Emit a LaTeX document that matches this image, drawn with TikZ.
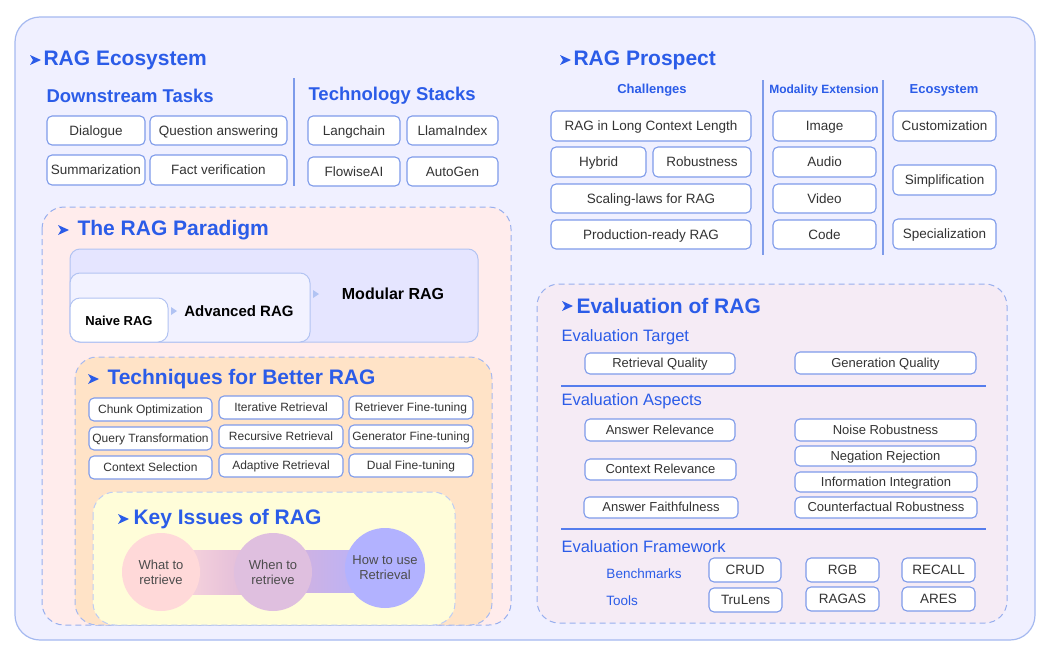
\documentclass[tikz,border=0pt]{standalone}
\usepackage{fontspec}
\setmainfont{Liberation Sans}
\begin{document}
\begin{tikzpicture}[x=1pt,y=-1pt,
  bx/.style={draw=bord,line width=1.1pt,rounded corners=5pt,fill=white,inner sep=0pt,font=\fontsize{13.5}{14}\selectfont,text=black!80,text height=9.5pt,text depth=0.5pt},
  sm/.style={font=\fontsize{12}{13}\selectfont,text height=8.5pt,text depth=0.5pt},
  md/.style={font=\fontsize{13}{14}\selectfont,text height=9pt,text depth=0.5pt},
  ttl/.style={anchor=west,text=tblue,font=\fontsize{21}{22}\selectfont\bfseries},
  sub/.style={anchor=west,text=tblue,font=\fontsize{18.5}{20}\selectfont\bfseries},
  sub2/.style={anchor=west,text=tblue,font=\fontsize{16.5}{18}\selectfont},
  hd/.style={text=tblue,font=\fontsize{13}{14}\selectfont\bfseries},
  dsh/.style={dashed,dash pattern=on 6pt off 4pt,draw=bord!80,line width=1pt,rounded corners=22pt}]
\definecolor{bord}{HTML}{7E9BEA}
\definecolor{tblue}{HTML}{2B5CE8}
\newcommand{\bxx}[7][]{\node[bx,#1,minimum width={(#5-#3)*1pt},minimum height={(#6-#4)*1pt}] (#2) at ({(#3+#5)/2},{(#4+#6)/2}) {#7};}
\newcommand{\mk}[2]{\fill[tblue] (#1,#2-5) -- (#1+11,#2) -- (#1,#2+5) -- (#1+3,#2) -- cycle;}
\useasboundingbox (0,0) rectangle (1040,645);
\fill[white] (0,0) rectangle (1040,645);
\draw[fill=blue!6,draw=bord!70,line width=1.2pt,rounded corners=25pt] (15,17) rectangle (1035,640);
% Ecosystem
\mk{30}{60}\node[ttl] (t1) at (40,60) {RAG Ecosystem};
\node[sub] (dt) at (43,96) {Downstream Tasks};
\bxx{a1}{47}{116}{145}{145}{Dialogue}
\bxx{a2}{150}{116}{287}{145}{Question answering}
\bxx{a3}{47}{155}{145}{185}{Summarization}
\bxx{a4}{150}{155}{287}{185}{Fact verification}
\draw[bord,line width=1.2pt] (294,78) -- (294,186);
\node[sub] (ts) at (305,96) {Technology Stacks};
\bxx{b1}{308}{116}{400}{145}{Langchain}
\bxx{b2}{407}{116}{498}{145}{LlamaIndex}
\bxx{b3}{308}{157}{400}{186}{FlowiseAI}
\bxx{b4}{407}{157}{498}{186}{AutoGen}
% Prospect
\mk{560}{60}\node[ttl] (t2) at (570,60) {RAG Prospect};
\node[hd] (h1) at (652,90) {Challenges};
\node[hd,font=\fontsize{12}{13}\selectfont\bfseries] (h2) at (824,90) {Modality Extension};
\node[hd] (h3) at (944,90) {Ecosystem};
\draw[bord,line width=1.2pt] (763,80) -- (763,255) (883,80) -- (883,255);
\bxx{c1}{551}{111}{751}{141}{RAG in Long Context Length}
\bxx{c2}{551}{147}{646}{177}{Hybrid}
\bxx{c3}{653}{147}{751}{177}{Robustness}
\bxx{c4}{551}{184}{751}{213}{Scaling-laws for RAG}
\bxx{c5}{551}{220}{751}{249}{Production-ready RAG}
\bxx{m1}{773}{111}{876}{141}{Image}
\bxx{m2}{773}{147}{876}{177}{Audio}
\bxx{m3}{773}{184}{876}{213}{Video}
\bxx{m4}{773}{220}{876}{249}{Code}
\bxx{e1}{893}{111}{996}{141}{Customization}
\bxx{e2}{893}{165}{996}{195}{Simplification}
\bxx{e3}{893}{219}{996}{249}{Specialization}
% Paradigm
\draw[dsh,fill=red!50!pink!12] (42,207) rectangle (511,625);
\mk{58}{230}\node[ttl] (t3) at (74,230) {The RAG Paradigm};
\draw[draw=bord!60,line width=1pt,rounded corners=10pt,fill=blue!10] (70,249) rectangle (478,342);
\draw[draw=bord!60,line width=1pt,rounded corners=10pt,fill=blue!5] (70,273) rectangle (310,342);
\draw[draw=bord!60,line width=1pt,rounded corners=10pt,fill=white] (70,298) rectangle (168,342);
\node[font=\fontsize{16}{18}\selectfont\bfseries] (mr) at (393,294) {Modular RAG};
\node[font=\fontsize{15}{17}\selectfont\bfseries] (ar) at (239,311) {Advanced RAG};
\node[font=\fontsize{13}{14}\selectfont\bfseries] (nr) at (119,321) {Naive RAG};
\fill[bord!60] (171,307) -- (177,311) -- (171,315) -- cycle;
\fill[bord!60] (313,290) -- (319,294) -- (313,298) -- cycle;
% Techniques
\draw[dsh,draw=bord!70,fill=orange!22] (75,357) rectangle (492,625);
\mk{88}{379}\node[ttl] (t4) at (104,379) {Techniques for Better RAG};
\bxx[sm]{q1}{89}{398}{212}{421}{Chunk Optimization}
\bxx[sm]{q2}{89}{427}{212}{450}{Query Transformation}
\bxx[sm]{q3}{89}{456}{212}{479}{Context Selection}
\bxx[sm]{q4}{219}{396}{343}{419}{Iterative Retrieval}
\bxx[sm]{q5}{219}{425}{343}{448}{Recursive Retrieval}
\bxx[sm]{q6}{219}{454}{343}{477}{Adaptive Retrieval}
\bxx[sm]{q7}{349}{396}{473}{419}{Retriever Fine-tuning}
\bxx[sm]{q8}{349}{425}{473}{448}{Generator Fine-tuning}
\bxx[sm]{q9}{349}{454}{473}{477}{Dual Fine-tuning}
% Key issues
\draw[dsh,draw=bord!50,fill=yellow!15] (93,492) rectangle (455,625);
\mk{118}{519}\node[ttl] (t5) at (130,519) {Key Issues of RAG};
\shade[left color=pink!55,right color=violet!30] (161,550) rectangle (273,594);
\shade[left color=violet!30,right color=blue!30] (273,550) rectangle (385,592);
\node[circle,fill=pink!60,minimum size=78pt,align=center,font=\fontsize{13}{15}\selectfont,text=black!70] (k1) at (161,572) {What to\\retrieve};
\node[circle,fill=violet!25,minimum size=78pt,align=center,font=\fontsize{13}{15}\selectfont,text=black!70] (k2) at (273,572) {When to\\retrieve};
\node[circle,fill=blue!30,minimum size=80pt,align=center,font=\fontsize{13}{15}\selectfont,text=black!70] (k3) at (385,568) {How to use\\Retrieval};
% Evaluation
\draw[dsh,fill=violet!8] (537,284) rectangle (1007,623);
\mk{562}{306}\node[ttl] (t6) at (573,306) {Evaluation of RAG};
\node[sub2] (s1) at (558,337) {Evaluation Target};
\bxx[md]{r1}{585}{353}{735}{374}{Retrieval Quality}
\bxx[md]{r2}{795}{352}{976}{374}{Generation Quality}
\draw[tblue!80,line width=1.2pt] (561,386) -- (986,386);
\node[sub2] (s2) at (558,401) {Evaluation Aspects};
\bxx[md]{r3}{585}{419}{735}{441}{Answer Relevance}
\bxx[md]{r4}{585}{459}{736}{480}{Context Relevance}
\bxx[md]{r5}{584}{497}{738}{518}{Answer Faithfulness}
\bxx[md]{r6}{795}{419}{976}{441}{Noise Robustness}
\bxx[md]{r7}{795}{446}{976}{466}{Negation Rejection}
\bxx[md]{r8}{795}{472}{977}{492}{Information Integration}
\bxx[md]{r9}{795}{497}{977}{518}{Counterfactual Robustness}
\draw[tblue!80,line width=1.2pt] (561,529) -- (986,529);
\node[sub2] (s3) at (558,547) {Evaluation Framework};
\node[text=tblue,font=\fontsize{13.5}{14}\selectfont] (bm) at (644,574) {Benchmarks};
\node[text=tblue,font=\fontsize{13.5}{14}\selectfont] (tl) at (622,601) {Tools};
\bxx{f1}{709}{558}{781}{582}{CRUD}
\bxx{f2}{806}{558}{879}{582}{RGB}
\bxx{f3}{902}{558}{975}{582}{RECALL}
\bxx{f4}{709}{588}{782}{612}{TruLens}
\bxx{f5}{806}{587}{879}{611}{RAGAS}
\bxx{f6}{902}{587}{975}{611}{ARES}
\end{tikzpicture}
\end{document}
